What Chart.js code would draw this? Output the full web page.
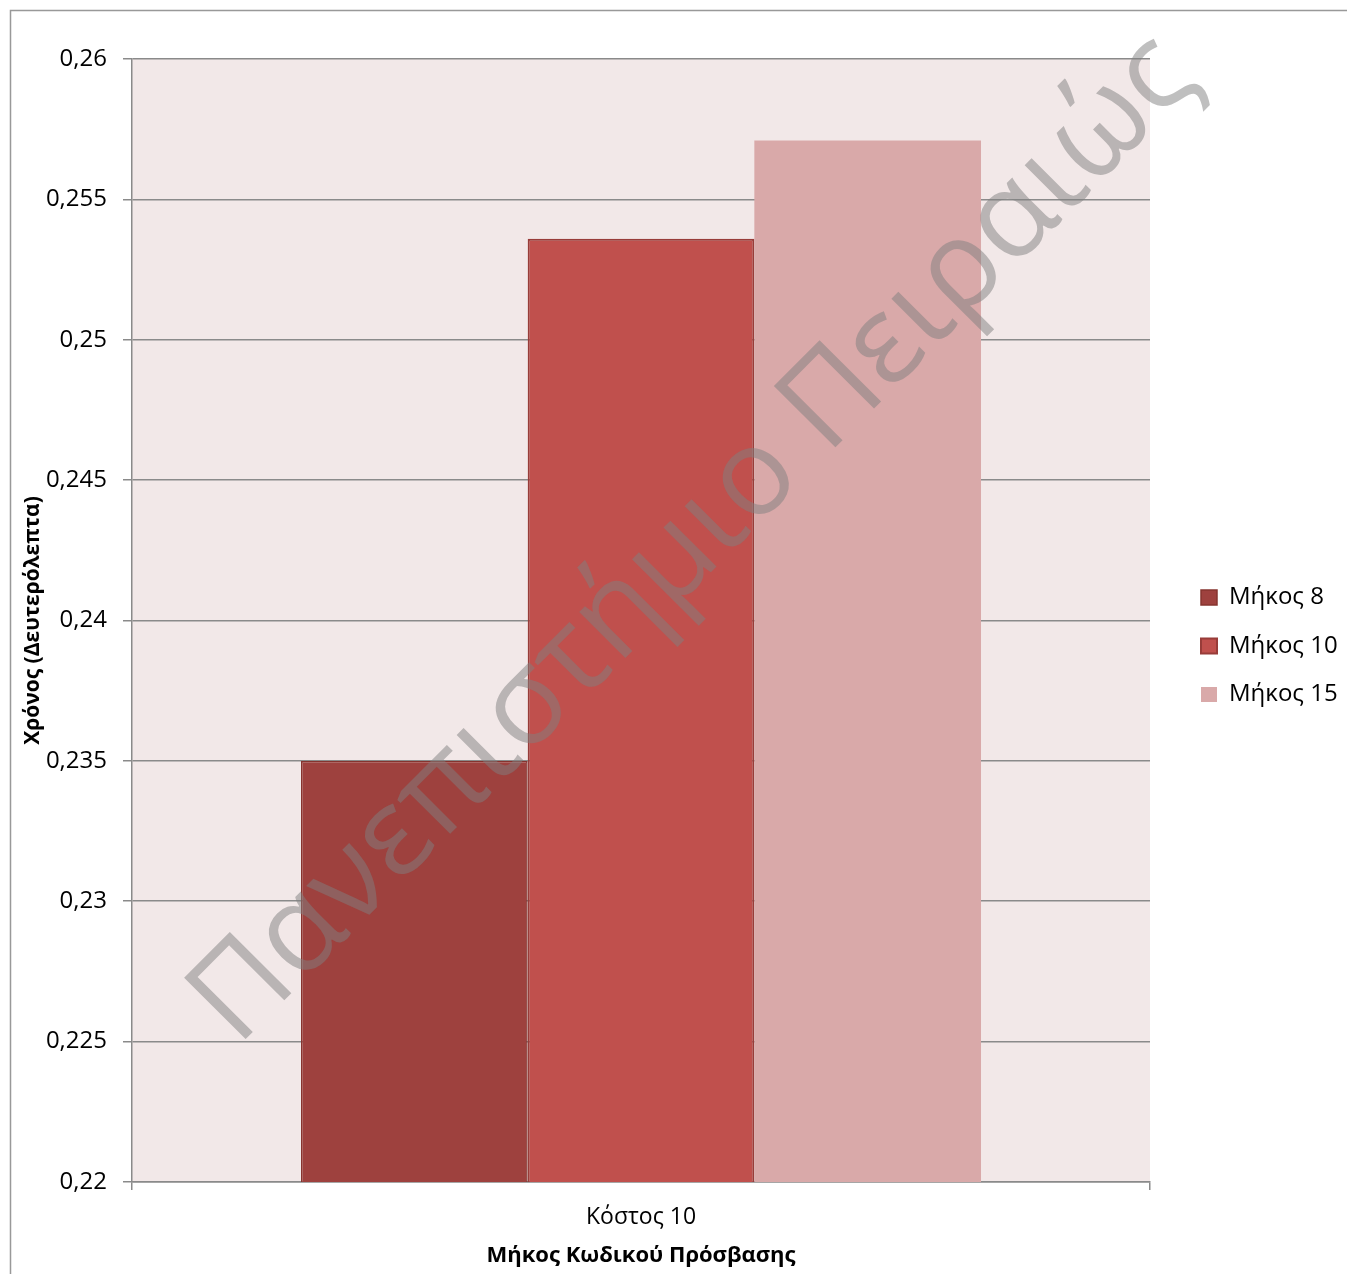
<!DOCTYPE html>
<html lang="el">
<head>
<meta charset="utf-8">
<title>Χρόνος ανά μήκος κωδικού πρόσβασης</title>
<script src="https://cdn.jsdelivr.net/npm/chart.js@4.4.1/dist/chart.umd.min.js"></script>
<style>
  html, body { margin: 0; padding: 0; background: #fff; }
  #wrap { width: 1347px; height: 1274px; }
</style>
</head>
<body>
<div id="wrap"><canvas id="timeChart" width="1347" height="1274"></canvas></div>
<script>
const categories = ['Κόστος 10'];
const seriesNames = ['Μήκος 8', 'Μήκος 10', 'Μήκος 15'];
const mikos8 = [0.235];
const mikos10 = [0.2536];
const mikos15 = [0.2571];
const yTicks = [0.22, 0.225, 0.23, 0.235, 0.24, 0.245, 0.25, 0.255, 0.26];
const watermarkText = 'Πανεπιστήμιο Πειραιώς';

const gridGray = '#8A8A8A';
const fontStack = '"Open Sans", "Noto Sans", sans-serif';
const plotRight = 1150;

Chart.defaults.font.family = fontStack;
Chart.defaults.color = '#000';

// pink plot area + the thin frame around the whole chart
const plotBackground = {
    id: 'plotBackground',
    beforeDraw(chart) {
        const { ctx, chartArea: a } = chart;
        ctx.save();
        ctx.fillStyle = '#F2E8E8';
        ctx.fillRect(a.left, a.top, a.width, a.height);
        ctx.strokeStyle = '#999999';
        ctx.lineWidth = 1.5;
        ctx.beginPath();
        ctx.moveTo(10.5, chart.height);
        ctx.lineTo(10.5, 10.5);
        ctx.lineTo(chart.width, 10.5);
        ctx.stroke();
        ctx.restore();
    }
};

// move the legend block a bit away from the plot and down
const legendPlacement = {
    id: 'legendPlacement',
    afterLayout(chart) {
        const lg = chart.legend;
        if (!lg) return;
        const pad = lg.options.labels.padding;
        const dx = chart.chartArea.right + 51 - (lg.left + pad);
        const dy = 646 - (lg.top + lg.bottom) / 2;
        lg.left += dx; lg.right += dx;
        lg.top += dy; lg.bottom += dy;
    }
};

// diagonal university watermark on top of everything
const watermark = {
    id: 'watermark',
    afterDraw(chart) {
        const ctx = chart.ctx;
        ctx.save();
        ctx.font = '400 120px ' + fontStack;
        const size = 120 * 1365 / ctx.measureText(watermarkText).width;
        ctx.font = '400 ' + size + 'px ' + fontStack;
        ctx.translate(719, 564);
        ctx.rotate(-45.1 * Math.PI / 180);
        ctx.textAlign = 'center';
        ctx.textBaseline = 'alphabetic';
        ctx.fillStyle = 'rgba(128, 128, 128, 0.5)';
        ctx.fillText(watermarkText, 0, 0);
        ctx.restore();
    }
};

const ctx = document.getElementById('timeChart').getContext('2d');
const chart = new Chart(ctx, {
    type: 'bar',
    data: {
        labels: categories,
        datasets: [{
            label: seriesNames[0],
            data: mikos8,
            backgroundColor: '#9E413E',
            borderColor: '#86342F',
            borderWidth: 1.5
        }, {
            label: seriesNames[1],
            data: mikos10,
            backgroundColor: '#C0504D',
            borderColor: '#983C39',
            borderWidth: 2
        }, {
            label: seriesNames[2],
            data: mikos15,
            backgroundColor: '#D9A9A9',
            borderColor: '#D9A9A9',
            borderWidth: 0
        }]
    },
    options: {
        responsive: false,
        animation: false,
        categoryPercentage: 0.668,
        barPercentage: 1.0,
        layout: {
            padding: { top: 59, left: 0, right: 40, bottom: 0 }
        },
        scales: {
            x: {
                offset: true,
                grid: {
                    display: true,
                    drawOnChartArea: false,
                    drawTicks: true,
                    tickLength: 8,
                    offset: true,
                    lineWidth: 1.5,
                    color: gridGray,
                    tickColor: gridGray
                },
                border: { display: true, color: gridGray, width: 1.5 },
                ticks: { font: { size: 23 }, padding: 14 },
                title: {
                    display: true,
                    text: 'Μήκος Κωδικού Πρόσβασης',
                    font: { size: 22, weight: 'bold' },
                    padding: { top: 0, bottom: 5 }
                },
                afterFit(scale) { scale.height = 92; }
            },
            y: {
                min: 0.22,
                max: 0.26,
                afterBuildTicks(scale) {
                    scale.ticks = yTicks.map(v => ({ value: v }));
                },
                grid: {
                    color: gridGray,
                    tickColor: gridGray,
                    tickLength: 9,
                    lineWidth: 1.5
                },
                border: { display: true, color: gridGray, width: 1.5 },
                ticks: {
                    font: { size: 24 },
                    padding: 16,
                    callback: value => String(value).replace('.', ',')
                },
                title: {
                    display: true,
                    text: 'Χρόνος (Δευτερόλεπτα)',
                    font: { size: 21, weight: 'bold' },
                    padding: { top: 20, bottom: 0 }
                },
                afterFit(scale) { scale.width = 132; }
            }
        },
        plugins: {
            legend: {
                position: 'right',
                labels: {
                    boxWidth: 16,
                    boxHeight: 15,
                    padding: 24.5,
                    font: { size: 24 }
                }
            },
            tooltip: { enabled: false }
        }
    },
    plugins: [plotBackground, legendPlacement, watermark]
});

// the legend width depends on the measured text, so settle the plot's right edge
const overshoot = chart.chartArea.right - plotRight;
if (overshoot !== 0) {
    chart.options.layout.padding.right += overshoot;
    chart.update();
}
</script>
</body>
</html>
